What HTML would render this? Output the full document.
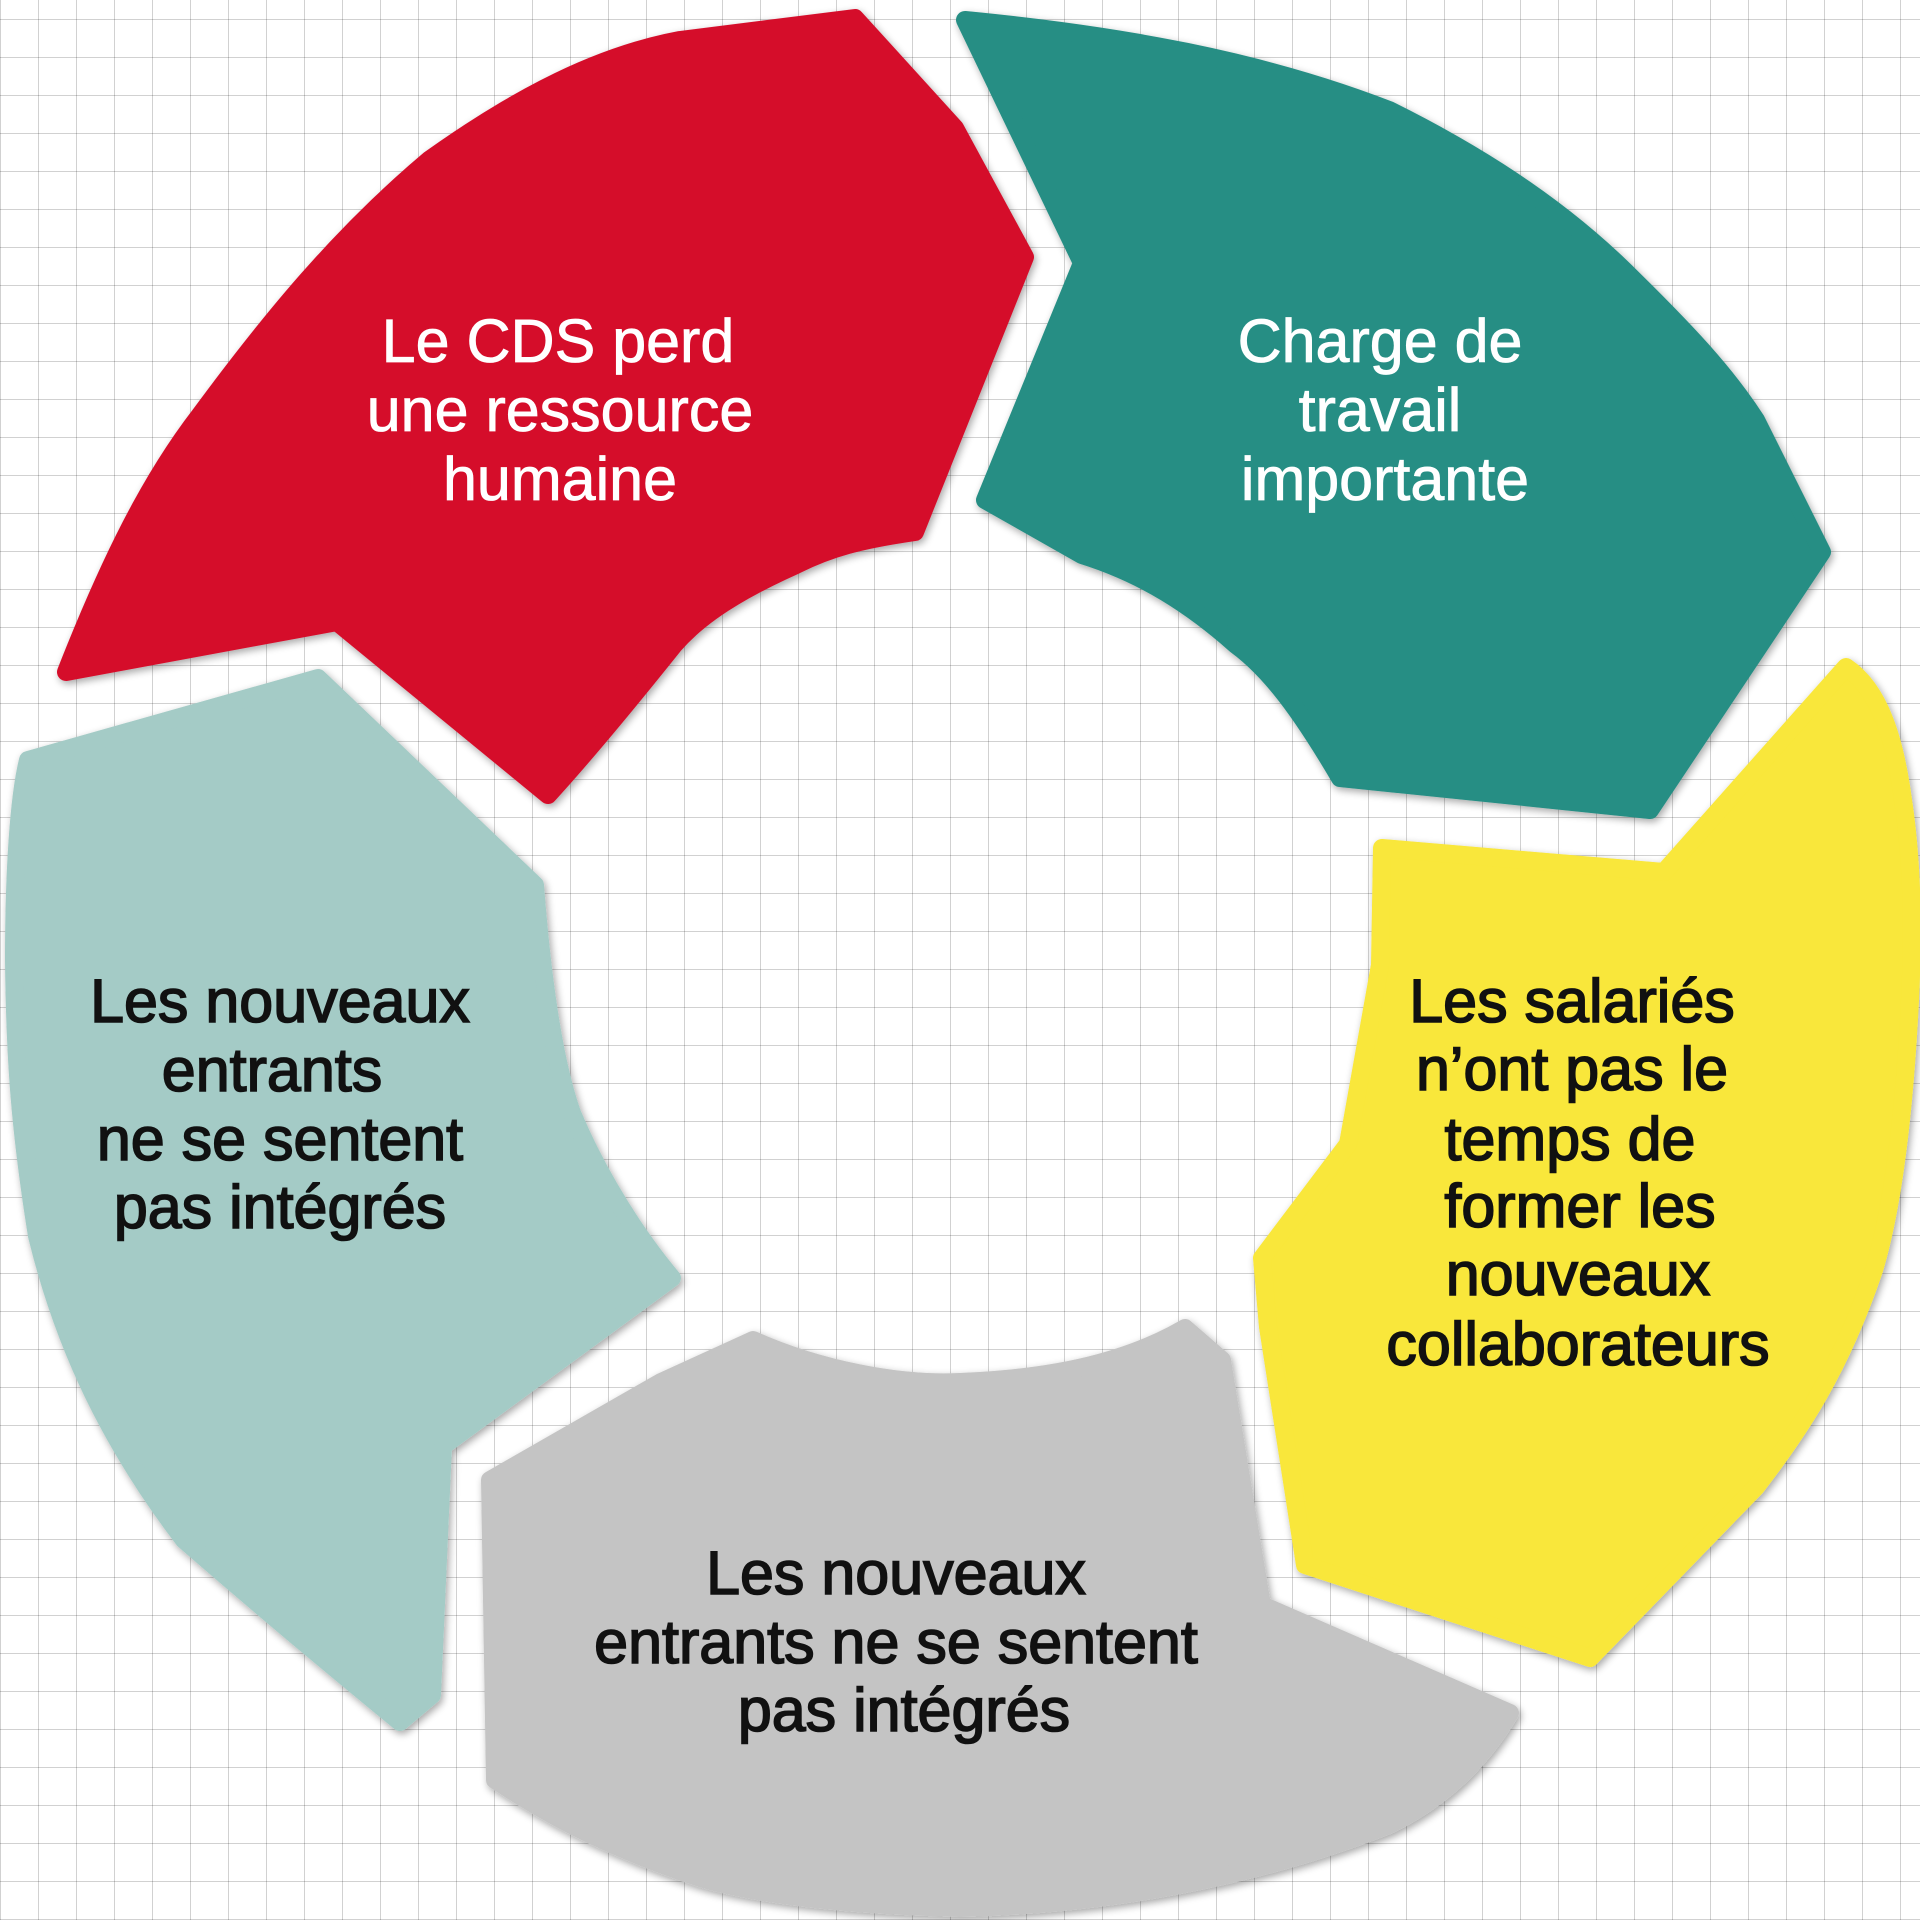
<!DOCTYPE html>
<html><head><meta charset="utf-8"><style>
html,body{margin:0;padding:0;}
body{width:1920px;height:1920px;overflow:hidden;background:#fff;
background-image:repeating-linear-gradient(0deg,rgba(0,0,0,0.18) 0 1px,transparent 1px 38px),repeating-linear-gradient(90deg,rgba(0,0,0,0.18) 0 1px,transparent 1px 38px);}
svg{position:absolute;left:0;top:0;}
text{font-family:"Liberation Sans",sans-serif;font-size:61px;text-anchor:middle;dominant-baseline:middle;}
</style></head><body>
<svg width="1920" height="1920" viewBox="0 0 1920 1920">
<defs><filter id="s" x="-10%" y="-10%" width="120%" height="120%"><feGaussianBlur in="SourceAlpha" stdDeviation="4"/><feOffset dx="2" dy="3"/><feComponentTransfer><feFuncA type="linear" slope="0.35"/></feComponentTransfer><feMerge><feMergeNode/><feMergeNode in="SourceGraphic"/></feMerge></filter></defs>
<g stroke-linejoin="round" stroke-width="18" filter="url(#s)">
<path fill="#d50c2c" stroke="#d50c2c" d="M66,672 C110,560 150,480 200,415 C270,320 340,235 429,160 C520,95 600,55 680,40 L855,18 L955,128 L1025,257 L915,532 C860,540 830,548 796,565 C740,590 700,615 674,645 C630,700 580,760 548,795 L337,622 Z"/>
<path fill="#268e84" stroke="#268e84" d="M965,20 C1120,35 1260,60 1389,110 C1490,160 1570,215 1634,280 C1700,345 1730,380 1756,420 L1822,552 L1650,810 L1340,778 C1300,710 1270,670 1236,645 C1180,595 1130,570 1082,555 L985,500 L1082,263 Z"/>
<path fill="#f9e73a" stroke="#f9e73a" d="M1846,667 C1880,690 1895,740 1903,800 C1915,880 1912,960 1910,1000 C1905,1100 1895,1200 1874,1270 C1840,1370 1800,1430 1756,1487 L1590,1658 L1305,1565 L1268,1327 L1262,1258 L1348,1144 L1380,965 L1382,848 L1664,872 Z"/>
<path fill="#c4c4c4" stroke="#c4c4c4" d="M490,1480 L661,1382 L753,1340 C820,1370 900,1385 960,1382 C1060,1378 1130,1360 1185,1328 L1222,1360 L1262,1605 L1510,1713 C1470,1780 1420,1810 1389,1825 C1250,1880 1100,1905 960,1908 C820,1905 740,1890 700,1878 C600,1845 540,1810 495,1780 Z"/>
<path fill="#a4cbc6" stroke="#a4cbc6" d="M28,760 L318,678 L535,885 C540,950 550,1050 572,1113 C600,1180 640,1240 672,1278 L443,1446 L432,1695 L400,1722 C300,1640 230,1580 184,1540 C100,1430 60,1330 37,1236 C20,1130 15,1060 14,960 C14,880 18,800 28,760 Z"/>
</g>
<g fill="#fff" stroke="#fff" stroke-width="0.8">
<text x="558" y="346">Le CDS perd</text>
<text x="560" y="415">une ressource</text>
<text x="560" y="484">humaine</text>
<text x="1380" y="346">Charge de</text>
<text x="1380" y="415">travail</text>
<text x="1385" y="484">importante</text>
</g>
<g fill="#111" stroke="#111" stroke-width="1.6">
<text x="280" y="1006">Les nouveaux</text>
<text x="272" y="1075">entrants</text>
<text x="280" y="1144">ne se sentent</text>
<text x="280" y="1212">pas intégrés</text>
<text x="896" y="1578">Les nouveaux</text>
<text x="896" y="1647">entrants ne se sentent</text>
<text x="904" y="1715">pas intégrés</text>
<text x="1572" y="1006">Les salariés</text>
<text x="1572" y="1074">n’ont pas le</text>
<text x="1570" y="1144">temps de</text>
<text x="1580" y="1211">former les</text>
<text x="1578" y="1279">nouveaux</text>
<text x="1578" y="1349">collaborateurs</text>
</g>
</svg>
</body></html>
